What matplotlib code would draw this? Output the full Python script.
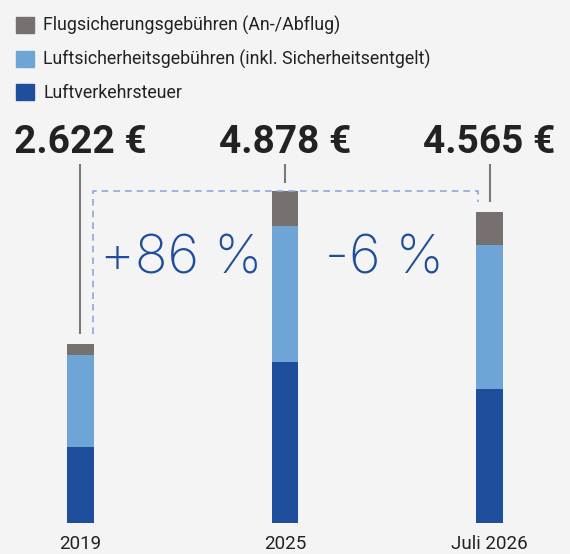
import matplotlib.pyplot as plt
from matplotlib.patches import Patch
import numpy as np

# Daten (Euro je Flug)
jahre = ["2019", "2025", "Juli 2026"]
luftverkehrsteuer = [1110, 2358, 1971]
luftsicherheit = [1350, 2012, 2117]
flugsicherung = [162, 508, 477]
summen = [2622, 4878, 4565]

farbe_steuer = "#1f4e9c"
farbe_sicher = "#6fa5d6"
farbe_flug = "#76716e"
hintergrund = "#f4f4f4"
textfarbe = "#222222"

plt.rcParams['font.family'] = ['Roboto', 'DejaVu Sans']

fig = plt.figure(figsize=(5.7, 5.54), dpi=100, facecolor=hintergrund)
ax = fig.add_axes([0, 31.3 / 554, 1, 1 - 31.3 / 554])
ax.set_facecolor(hintergrund)

x = np.arange(len(jahre))
breite = 0.132
unten = np.array(luftverkehrsteuer)
ax.bar(x, luftverkehrsteuer, breite, color=farbe_steuer)
ax.bar(x, luftsicherheit, breite, bottom=unten, color=farbe_sicher)
unten = unten + np.array(luftsicherheit)
ax.bar(x, flugsicherung, breite, bottom=unten, color=farbe_flug)

ax.set_xlim(-0.3936, 2.3936)
ax.set_ylim(0, 7687)

# Summen oben mit Hinweislinien
for xi, s in zip(x, summen):
    label = f"{s:,}".replace(",", ".") + " €"
    ax.text(xi, 5437, label, ha='center', va='baseline', fontsize=28,
            fontweight='bold', color=textfarbe)
ende = [summen[0] + 160, summen[1] + 120, summen[2] + 150]
for xi, e in zip(x, ende):
    ax.plot([xi, xi], [5272, e], color="#7a7a7a", lw=1.5, solid_capstyle='butt')

# gestrichelte Verbindung
dx = breite / 2
ax.plot([x[0] + dx - 0.006, x[0] + dx - 0.006, x[2] - dx + 0.012, x[2] - dx + 0.012],
        [summen[0] + 160, summen[1], summen[1], summen[2] + 150],
        color="#8aa8dc", lw=1.2, dashes=(4, 3))

# Veränderung in Prozent
aenderung = [summen[1] / summen[0] - 1, summen[2] / summen[1] - 1]
for xp, a in zip([0.491, 1.487], aenderung):
    t = f"{a * 100:+.0f} %"
    ax.text(xp, 3669, t, ha='center', va='baseline', fontsize=39,
            fontweight='light', color=farbe_steuer, family=['Inter', 'DejaVu Sans'])

ax.set_xticks(x, jahre)
ax.tick_params(axis='x', length=0, pad=9, labelsize=13.5, labelcolor=textfarbe)
ax.set_yticks([])
for sp in ax.spines.values():
    sp.set_visible(False)

handles = [Patch(color=farbe_flug, label="Flugsicherungsgebühren (An-/Abflug)"),
           Patch(color=farbe_sicher, label="Luftsicherheitsgebühren (inkl. Sicherheitsentgelt)"),
           Patch(color=farbe_steuer, label="Luftverkehrsteuer")]
fig.legend(handles=handles, loc='upper left', bbox_to_anchor=(0.0, 1.0),
           frameon=False, fontsize=12.75, handlelength=1.0, handleheight=1.0,
           handletextpad=0.55, labelspacing=0.85, borderaxespad=0.5,
           labelcolor=textfarbe)

plt.savefig("out.png", dpi=100, facecolor=hintergrund)
